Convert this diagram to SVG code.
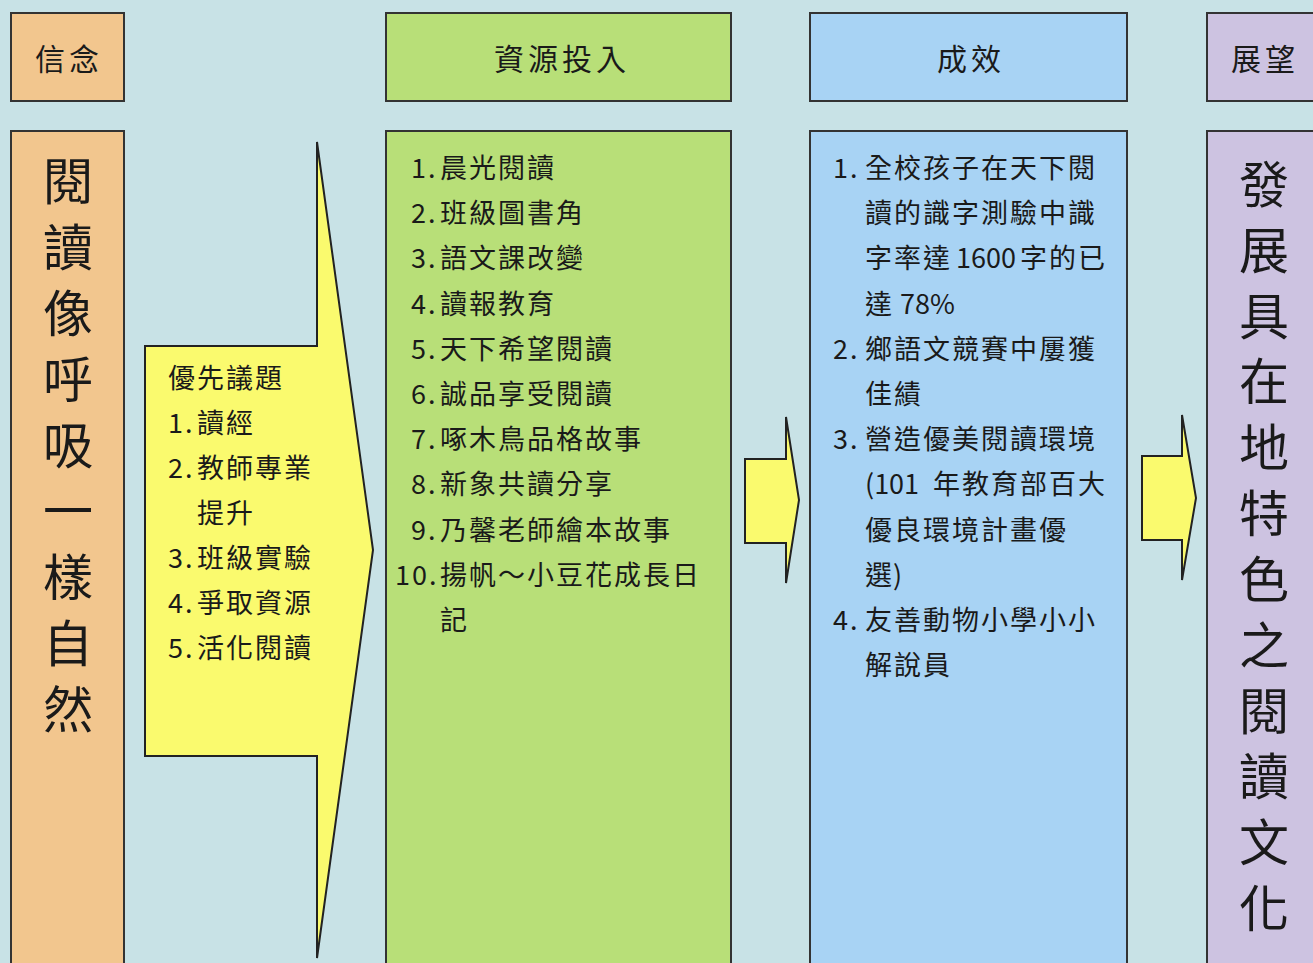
<svg xmlns="http://www.w3.org/2000/svg" width="1313" height="963" viewBox="0 0 1313 963">
<style>
.box{stroke:#333;stroke-width:2}
.or{fill:#F2C68E}.gr{fill:#B8DF78}.bl{fill:#A8D3F4}.pu{fill:#CDC3E1}
.arr{fill:#FAFA6E;stroke:#222;stroke-width:2;stroke-linejoin:miter}
text{font-family:"Noto Sans CJK TC","Noto Sans CJK SC",sans-serif;fill:#1a1a1a;dominant-baseline:central}
.hd{font-size:30px;letter-spacing:4px}
.bd{font-size:27px;letter-spacing:2px}
.vt{font-size:50px;text-anchor:middle}
</style>
<rect width="1313" height="963" fill="#C8E2E6"/>

<g id="connectors">
<polygon class="arr" points="145,346 317,346 317,142 373,550 317,958 317,756 145,756"/>
<polygon class="arr" points="745,459 786,459 786,417 799,500 786,583 786,543 745,543"/>
<polygon class="arr" points="1142,456 1182,456 1182,415 1196,498 1182,580 1182,540 1142,540"/>
</g>

<g id="hdr-belief">
<rect class="box or" x="11" y="13" width="113" height="88"/>
<text class="hd" x="35" y="57">信念</text>
</g>
<g id="hdr-resource">
<rect class="box gr" x="386" y="13" width="345" height="88"/>
<text class="hd" x="494" y="57">資源投入</text>
</g>
<g id="hdr-result">
<rect class="box bl" x="810" y="13" width="317" height="88"/>
<text class="hd" x="937" y="57">成效</text>
</g>
<g id="hdr-outlook">
<rect class="box pu" x="1207" y="13" width="120" height="88"/>
<text class="hd" x="1231" y="57">展望</text>
</g>

<g id="belief">
<rect class="box or" x="11" y="131" width="113" height="850"/>
<text class="vt">
<tspan x="68" y="178">閱</tspan><tspan x="68" y="244">讀</tspan><tspan x="68" y="310">像</tspan><tspan x="68" y="376">呼</tspan><tspan x="68" y="442">吸</tspan><tspan x="68" y="508">一</tspan><tspan x="68" y="574">樣</tspan><tspan x="68" y="640">自</tspan><tspan x="68" y="706">然</tspan>
</text>
</g>

<g id="priority">
<text class="bd" x="168" y="376">優先議題</text>
<text class="bd" x="168" y="421">1.</text><text class="bd" x="197" y="421">讀經</text>
<text class="bd" x="168" y="466">2.</text><text class="bd" x="197" y="466">教師專業</text>
<text class="bd" x="197" y="511">提升</text>
<text class="bd" x="168" y="556">3.</text><text class="bd" x="197" y="556">班級實驗</text>
<text class="bd" x="168" y="601">4.</text><text class="bd" x="197" y="601">爭取資源</text>
<text class="bd" x="168" y="646">5.</text><text class="bd" x="197" y="646">活化閱讀</text>
</g>

<g id="resource">
<rect class="box gr" x="386" y="131" width="345" height="850"/>
<text class="bd" x="411" y="166">1.</text><text class="bd" x="440" y="166">晨光閱讀</text>
<text class="bd" x="411" y="211">2.</text><text class="bd" x="440" y="211">班級圖書角</text>
<text class="bd" x="411" y="256">3.</text><text class="bd" x="440" y="256">語文課改變</text>
<text class="bd" x="411" y="302">4.</text><text class="bd" x="440" y="302">讀報教育</text>
<text class="bd" x="411" y="347">5.</text><text class="bd" x="440" y="347">天下希望閱讀</text>
<text class="bd" x="411" y="392">6.</text><text class="bd" x="440" y="392">誠品享受閱讀</text>
<text class="bd" x="411" y="437">7.</text><text class="bd" x="440" y="437">啄木鳥品格故事</text>
<text class="bd" x="411" y="482">8.</text><text class="bd" x="440" y="482">新象共讀分享</text>
<text class="bd" x="411" y="528">9.</text><text class="bd" x="440" y="528">乃馨老師繪本故事</text>
<text class="bd" x="395" y="573">10.</text><text class="bd" x="440" y="573">揚帆～小豆花成長日</text>
<text class="bd" x="440" y="618">記</text>
</g>

<g id="result">
<rect class="box bl" x="810" y="131" width="317" height="850"/>
<text class="bd" x="833" y="166">1.</text><text class="bd" x="865" y="166">全校孩子在天下閱</text>
<text class="bd" x="865" y="211">讀的識字測驗中識</text>
<text class="bd" y="256"><tspan x="865">字率達</tspan><tspan x="956" letter-spacing="0">1600</tspan><tspan x="1020">字的已</tspan></text>
<text class="bd" y="302"><tspan x="865">達</tspan><tspan x="900" letter-spacing="0">78%</tspan></text>
<text class="bd" x="833" y="347">2.</text><text class="bd" x="865" y="347">鄉語文競賽中屢獲</text>
<text class="bd" x="865" y="392">佳績</text>
<text class="bd" x="833" y="437">3.</text><text class="bd" x="865" y="437">營造優美閱讀環境</text>
<text class="bd" y="482"><tspan x="865" letter-spacing="0">(101</tspan><tspan x="933">年教育部百大</tspan></text>
<text class="bd" x="865" y="528">優良環境計畫優</text>
<text class="bd" y="573"><tspan x="865">選</tspan><tspan x="893">)</tspan></text>
<text class="bd" x="833" y="618">4.</text><text class="bd" x="865" y="618">友善動物小學小小</text>
<text class="bd" x="865" y="663">解說員</text>
</g>

<g id="outlook">
<rect class="box pu" x="1207" y="131" width="120" height="850"/>
<text class="vt">
<tspan x="1264" y="181">發</tspan><tspan x="1264" y="247">展</tspan><tspan x="1264" y="313">具</tspan><tspan x="1264" y="378">在</tspan><tspan x="1264" y="444">地</tspan><tspan x="1264" y="510">特</tspan><tspan x="1264" y="576">色</tspan><tspan x="1264" y="642">之</tspan><tspan x="1264" y="708">閱</tspan><tspan x="1264" y="773">讀</tspan><tspan x="1264" y="839">文</tspan><tspan x="1264" y="905">化</tspan>
</text>
</g>
</svg>
